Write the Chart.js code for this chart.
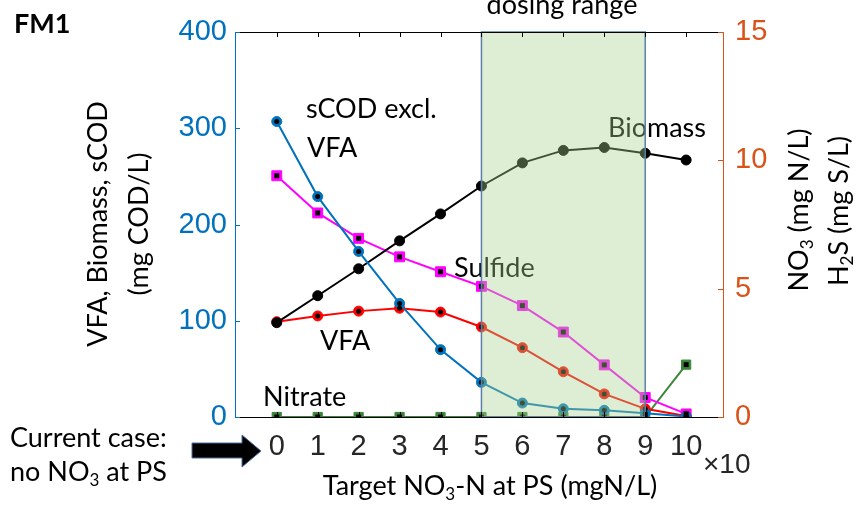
<!DOCTYPE html>
<html><head><meta charset="utf-8">
<script src="https://cdn.jsdelivr.net/npm/chart.js@4/dist/chart.umd.min.js"></script>
<style>html,body{margin:0;padding:0;background:#fff}#wrap{width:857px;height:513px;position:relative}</style>
</head><body><div id="wrap"><canvas id="c" width="857" height="513"></canvas></div>
<script>
// ---- data ----
const xValues = [0,1,2,3,4,5,6,7,8,9,10];
const xTickLabels = ['0','1','2','3','4','5','6','7','8','9','10'];
const sCODexclVFA = [307,229,172,118,70,36,14.5,8.5,7,4,0.5];   // mg COD/L (left)
const biomass = [98,126,154,183,211,240,264,277,280,274,267];      // mg COD/L (left)
const vfa = [99,105,110,113,109,93.5,72,47,24,8.5,1];              // mg COD/L (left)
const sulfide = [9.4,7.95,6.96,6.24,5.66,5.09,4.34,3.31,2.03,0.76,0.12]; // mg S/L (right)
const nitrate = [0,0,0,0,0,0,0,0,0,0,2.04];                        // mg N/L (right)
const leftTicks = [0,100,200,300,400];
const rightTicks = [0,5,10,15];
const dosingRange = [5,9];

const BLUE = '#0072BD', ORANGE = '#D95319', RED = '#FF0000', MAG = '#FF00FF', GREEN = '#3A873A';
const pts = arr => arr.map((v,i)=>({x:xValues[i], y:v}));

function mainDs(data, color, axis, style, r, order){
  return {data:pts(data), yAxisID:axis, borderColor:color, backgroundColor:color, borderWidth:2, order:order,
    pointStyle:style, pointRadius:r, pointBorderColor:color, pointBackgroundColor:color, pointBorderWidth:1, tension:0};
}
function dotDs(data, axis, style, r){
  return {data:pts(data), yAxisID:axis, showLine:false, pointStyle:style, pointRadius:r, order:0,
    backgroundColor:'#000', borderColor:'#000',
    pointBackgroundColor:'#000', pointBorderColor:'#000', pointBorderWidth:0};
}

function drawRich(ctx, parts, x, y, align, size, family){
  const big = size+'px '+family, small = Math.round(size*0.62)+'px '+family;
  let w = 0;
  parts.forEach(p=>{ ctx.font = p.sub?small:big; w += ctx.measureText(p.t).width; });
  let cx = align==='center' ? x - w/2 : x;
  ctx.textAlign='left';
  parts.forEach(p=>{
    ctx.font = p.sub?small:big;
    ctx.fillText(p.t, cx, p.sub ? y + size*0.18 : y);
    cx += ctx.measureText(p.t).width;
  });
}

const decor = {
  id:'decor',
  afterDatasetsDraw(chart){
    const ctx = chart.ctx, xs = chart.scales.x, ca = chart.chartArea;
    ctx.save();
    ctx.fillStyle = '#000';
    ctx.font = '27px Lato';
    ctx.textAlign='left'; ctx.textBaseline='alphabetic';
    ctx.fillText('sCOD excl.', 306, 118);
    ctx.fillText('VFA', 307, 157);
    ctx.fillText('Biomass', 608, 137);
    ctx.fillText('Sulfide', 454, 277);
    ctx.fillText('VFA', 320, 350);
    ctx.fillText('Nitrate', 263, 406);
    // dosing range overlay
    const x0 = xs.getPixelForValue(dosingRange[0]), x1 = xs.getPixelForValue(dosingRange[1]);
    ctx.fillStyle = 'rgba(169,209,142,0.38)';
    ctx.fillRect(x0, ca.top, x1-x0, ca.bottom-ca.top);
    ctx.strokeStyle = '#5a80aa'; ctx.lineWidth = 1.5;
    ctx.strokeRect(x0, ca.top, x1-x0, ca.bottom-ca.top);
    ctx.restore();
  },
  afterDraw(chart){
    const ctx = chart.ctx, xs = chart.scales.x, y = chart.scales.y, y2 = chart.scales.y2, ca = chart.chartArea;
    ctx.save();
    ctx.lineWidth = 1;
    // axes lines
    ctx.strokeStyle = '#000';
    ctx.beginPath(); ctx.moveTo(ca.left, ca.top+0.5); ctx.lineTo(ca.right, ca.top+0.5); ctx.stroke();
    ctx.beginPath(); ctx.moveTo(ca.left, ca.bottom+0.5); ctx.lineTo(ca.right, ca.bottom+0.5); ctx.stroke();
    xValues.forEach(v=>{
      const px = Math.round(xs.getPixelForValue(v))+0.5;
      ctx.beginPath(); ctx.moveTo(px, ca.top); ctx.lineTo(px, ca.top+5); ctx.stroke();
      ctx.beginPath(); ctx.moveTo(px, ca.bottom); ctx.lineTo(px, ca.bottom-5); ctx.stroke();
    });
    ctx.strokeStyle = BLUE;
    ctx.beginPath(); ctx.moveTo(ca.left+0.5, ca.top); ctx.lineTo(ca.left+0.5, ca.bottom+1); ctx.stroke();
    leftTicks.forEach(v=>{ const py=Math.round(y.getPixelForValue(v))+0.5;
      ctx.beginPath(); ctx.moveTo(ca.left, py); ctx.lineTo(ca.left+5, py); ctx.stroke(); });
    ctx.strokeStyle = ORANGE;
    ctx.beginPath(); ctx.moveTo(ca.right+0.5, ca.top); ctx.lineTo(ca.right+0.5, ca.bottom+1); ctx.stroke();
    rightTicks.forEach(v=>{ const py=Math.round(y2.getPixelForValue(v))+0.5;
      ctx.beginPath(); ctx.moveTo(ca.right, py); ctx.lineTo(ca.right-5, py); ctx.stroke(); });

    ctx.fillStyle = '#000'; ctx.textBaseline='alphabetic';
    // FM1
    ctx.font = 'bold 27px Lato'; ctx.textAlign='left';
    ctx.fillText('FM1', 14, 33);
    // dosing range
    ctx.font = '27px Lato'; ctx.textAlign='center';
    ctx.fillText('dosing range', 562, 14);
    // x10
    ctx.font = '28px "Liberation Sans"'; ctx.textAlign='left'; ctx.fillStyle='#262626';
    ctx.fillText('\u00d710', 703, 473);
    ctx.fillStyle='#000';
    // x title
    drawRich(ctx, [{t:'Target NO'},{t:'3',sub:true},{t:'-N at PS (mgN/L)'}], 490, 495, 'center', 27, 'Lato');
    // current case
    ctx.font='27px Lato'; ctx.textAlign='left';
    ctx.fillText('Current case:', 10, 447);
    drawRich(ctx, [{t:'no NO'},{t:'3',sub:true},{t:' at PS'}], 10, 481, 'left', 27, 'Lato');
    // arrow
    ctx.beginPath();
    ctx.moveTo(192,443); ctx.lineTo(242,443); ctx.lineTo(242,435); ctx.lineTo(261,451);
    ctx.lineTo(242,467); ctx.lineTo(242,458); ctx.lineTo(192,458); ctx.closePath();
    ctx.fillStyle='#000'; ctx.fill(); ctx.strokeStyle='#4a6fa0'; ctx.lineWidth=1; ctx.stroke();
    // left title
    ctx.save(); ctx.translate(107, 224); ctx.rotate(-Math.PI/2);
    ctx.fillStyle='#000'; ctx.font='27px Lato'; ctx.textAlign='center';
    ctx.fillText('VFA, Biomass, sCOD', 0, 0);
    ctx.restore();
    ctx.save(); ctx.translate(148, 224); ctx.rotate(-Math.PI/2);
    ctx.fillStyle='#000'; ctx.font='27px Lato'; ctx.textAlign='center';
    ctx.fillText('(mg COD/L)', 0, 0);
    ctx.restore();
    // right title
    ctx.save(); ctx.translate(808, 210); ctx.rotate(-Math.PI/2); ctx.fillStyle='#000';
    drawRich(ctx, [{t:'NO'},{t:'3',sub:true},{t:' (mg N/L)'}], 0, 0, 'center', 27, 'Lato');
    ctx.restore();
    ctx.save(); ctx.translate(848, 211); ctx.rotate(-Math.PI/2); ctx.fillStyle='#000';
    drawRich(ctx, [{t:'H'},{t:'2',sub:true},{t:'S (mg S/L)'}], 0, 0, 'center', 27, 'Lato');
    ctx.restore();
    ctx.restore();
  }
};

new Chart(document.getElementById('c'), {
  type:'line',
  data:{ datasets:[
    mainDs(sCODexclVFA, BLUE, 'y', 'circle', 5, 1),
    mainDs(biomass, '#000', 'y', 'circle', 5, 2),
    mainDs(vfa, RED, 'y', 'circle', 5, 3),
    mainDs(sulfide, MAG, 'y2', 'rect', 7, 4),
    mainDs(nitrate, GREEN, 'y2', 'rect', 6.5, 5),
    dotDs(sCODexclVFA, 'y', 'circle', 2.5),
    dotDs(vfa, 'y', 'circle', 2.5),
    dotDs(sulfide, 'y2', 'rect', 3.5),
    dotDs(nitrate, 'y2', 'rect', 3.5)
  ]},
  options:{
    responsive:false, animation:false, devicePixelRatio:1,
    layout:{padding:{top:32,left:0,right:0,bottom:0}},
    plugins:{legend:{display:false}, tooltip:{enabled:false}},
    elements:{line:{borderWidth:2}},
    scales:{
      x:{type:'linear', min:-1.02, max:10.9,
        afterBuildTicks: s=>{ s.ticks = xValues.map(v=>({value:v})); },
        afterFit: s=>{ s.height = 96; },
        grid:{display:false, drawTicks:false}, border:{display:false},
        ticks:{padding:13, color:'#262626', font:{family:'Liberation Sans', size:29},
          callback:(v)=>{ const i=xValues.indexOf(v); return i>=0?xTickLabels[i]:''; }, maxRotation:0, autoSkip:false}
      },
      y:{position:'left', min:0, max:400,
        afterBuildTicks: s=>{ s.ticks = leftTicks.map(v=>({value:v})); },
        afterFit: s=>{ s.width = 235; },
        grid:{display:false, drawTicks:false}, border:{display:false},
        ticks:{padding:8, color:BLUE, font:{family:'Liberation Sans', size:29}}
      },
      y2:{position:'right', min:0, max:15,
        afterBuildTicks: s=>{ s.ticks = rightTicks.map(v=>({value:v})); },
        afterFit: s=>{ s.width = 134; },
        grid:{display:false, drawTicks:false}, border:{display:false},
        ticks:{padding:12, color:ORANGE, font:{family:'Liberation Sans', size:29}}
      }
    }
  },
  plugins:[decor]
});
</script></body></html>
